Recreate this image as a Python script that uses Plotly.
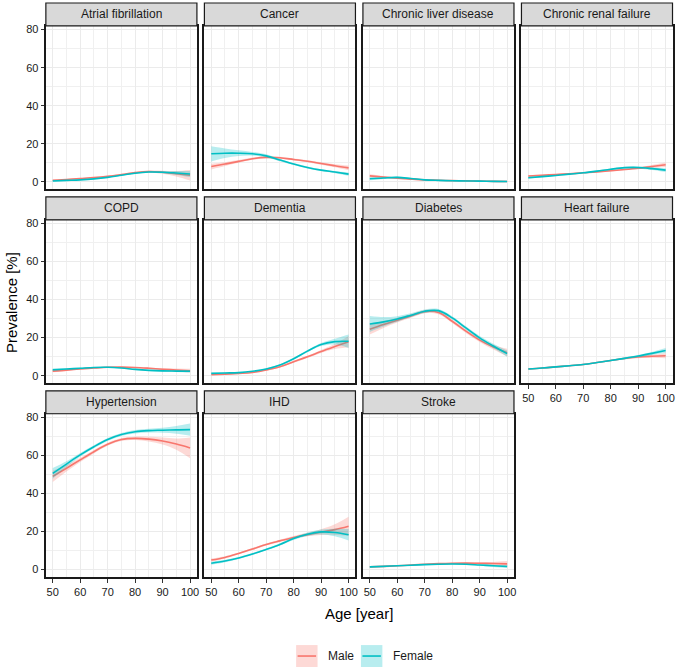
import plotly.graph_objects as go

# ---------------- data ----------------
ages = [50, 55, 60, 65, 70, 75, 80, 85, 90, 95, 100]

diseases = ["Atrial fibrillation", "Cancer", "Chronic liver disease", "Chronic renal failure",
            "COPD", "Dementia", "Diabetes", "Heart failure",
            "Hypertension", "IHD", "Stroke"]

male_prev = {
    "Atrial fibrillation": [0.8, 1.2, 1.7, 2.2, 2.9, 3.8, 4.8, 5.4, 5.0, 4.2, 3.4],
    "Cancer": [8.0, 9.3, 10.7, 12.1, 12.8, 12.6, 11.7, 10.8, 9.6, 8.4, 7.3],
    "Chronic liver disease": [3.1, 2.5, 1.9, 1.4, 1.0, 0.8, 0.6, 0.5, 0.3, 0.2, 0.1],
    "Chronic renal failure": [3.0, 3.4, 3.8, 4.2, 4.7, 5.2, 5.8, 6.4, 7.1, 8.0, 8.9],
    "COPD": [2.4, 2.9, 3.5, 4.0, 4.4, 4.5, 4.3, 3.9, 3.4, 3.0, 2.6],
    "Dementia": [0.5, 0.8, 1.2, 1.7, 3.0, 4.7, 7.3, 9.9, 12.7, 15.3, 17.8],
    "Diabetes": [24.4, 26.9, 29.1, 31.4, 33.7, 33.2, 28.6, 23.4, 18.7, 15.0, 12.1],
    "Heart failure": [3.5, 4.0, 4.6, 5.2, 5.9, 6.9, 8.0, 9.0, 9.8, 10.2, 10.5],
    "Hypertension": [49.0, 53.3, 57.7, 62.0, 65.9, 68.4, 69.0, 68.6, 67.6, 66.0, 64.0],
    "IHD": [5.0, 6.4, 8.5, 10.8, 13.2, 15.1, 16.9, 18.4, 19.7, 21.0, 22.8],
    "Stroke": [1.4, 1.7, 2.0, 2.4, 2.8, 3.1, 3.3, 3.4, 3.3, 3.2, 3.0],
}

female_prev = {
    "Atrial fibrillation": [0.4, 0.7, 1.0, 1.5, 2.3, 3.4, 4.5, 5.1, 5.0, 4.6, 4.1],
    "Cancer": [14.7, 15.0, 15.0, 14.7, 13.6, 11.4, 9.3, 7.5, 6.1, 5.1, 4.0],
    "Chronic liver disease": [1.6, 2.0, 2.3, 1.7, 1.0, 0.7, 0.5, 0.4, 0.3, 0.2, 0.1],
    "Chronic renal failure": [2.1, 2.7, 3.3, 4.0, 4.7, 5.6, 6.6, 7.4, 7.5, 6.9, 6.1],
    "COPD": [3.1, 3.5, 3.9, 4.3, 4.4, 4.0, 3.3, 2.8, 2.5, 2.4, 2.3],
    "Dementia": [1.2, 1.4, 1.6, 2.3, 3.5, 5.6, 8.9, 12.9, 16.4, 17.9, 18.1],
    "Diabetes": [27.2, 28.3, 29.8, 31.8, 33.9, 34.2, 30.4, 25.1, 19.9, 15.6, 11.6],
    "Heart failure": [3.5, 4.0, 4.6, 5.2, 5.9, 6.9, 8.0, 9.1, 10.3, 11.7, 13.2],
    "Hypertension": [50.6, 55.5, 60.3, 64.6, 68.4, 71.0, 72.5, 73.1, 73.3, 73.5, 73.6],
    "IHD": [3.3, 4.5, 6.1, 8.2, 10.6, 13.2, 16.3, 18.6, 19.8, 19.5, 18.3],
    "Stroke": [1.4, 1.7, 2.0, 2.3, 2.6, 2.8, 2.9, 2.8, 2.4, 2.0, 1.6],
}

# half-width of the confidence band
male_ci = {
    "Atrial fibrillation": [0.3, 0.3, 0.3, 0.3, 0.3, 0.3, 0.4, 0.5, 0.8, 1.5, 2.8],
    "Cancer": [1.5, 1.0, 0.7, 0.6, 0.5, 0.5, 0.5, 0.5, 0.6, 0.8, 1.2],
    "Chronic liver disease": [0.8, 0.5, 0.4, 0.3, 0.3, 0.2, 0.2, 0.2, 0.2, 0.3, 0.4],
    "Chronic renal failure": [0.5, 0.4, 0.3, 0.3, 0.3, 0.3, 0.4, 0.4, 0.5, 0.8, 1.2],
    "COPD": [0.6, 0.4, 0.3, 0.3, 0.3, 0.3, 0.3, 0.4, 0.5, 0.7, 1.0],
    "Dementia": [0.2, 0.2, 0.2, 0.2, 0.3, 0.4, 0.5, 0.6, 0.8, 1.3, 3.0],
    "Diabetes": [2.8, 1.8, 1.2, 1.0, 0.9, 0.9, 0.9, 0.9, 1.0, 1.3, 2.0],
    "Heart failure": [0.3, 0.3, 0.3, 0.3, 0.3, 0.3, 0.4, 0.5, 0.6, 0.8, 1.3],
    "Hypertension": [3.0, 1.7, 1.1, 0.9, 0.8, 0.8, 0.9, 1.2, 1.8, 3.0, 5.5],
    "IHD": [0.8, 0.6, 0.5, 0.5, 0.5, 0.6, 0.7, 0.9, 1.5, 2.8, 5.0],
    "Stroke": [0.3, 0.2, 0.2, 0.2, 0.2, 0.2, 0.3, 0.4, 0.5, 0.8, 1.5],
}

female_ci = {
    "Atrial fibrillation": [0.3, 0.2, 0.2, 0.2, 0.2, 0.3, 0.3, 0.4, 0.6, 1.0, 1.6],
    "Cancer": [4.0, 2.5, 1.5, 1.0, 0.8, 0.6, 0.5, 0.5, 0.5, 0.6, 0.9],
    "Chronic liver disease": [0.8, 0.5, 0.4, 0.3, 0.3, 0.2, 0.2, 0.2, 0.2, 0.3, 0.4],
    "Chronic renal failure": [0.5, 0.4, 0.3, 0.3, 0.3, 0.3, 0.4, 0.4, 0.5, 0.7, 1.0],
    "COPD": [0.7, 0.4, 0.3, 0.3, 0.3, 0.3, 0.3, 0.3, 0.4, 0.5, 0.7],
    "Dementia": [0.3, 0.2, 0.2, 0.2, 0.3, 0.4, 0.5, 0.6, 0.8, 1.5, 3.5],
    "Diabetes": [4.2, 2.5, 1.5, 1.0, 0.9, 0.9, 0.9, 0.9, 1.0, 1.2, 1.6],
    "Heart failure": [0.3, 0.3, 0.3, 0.3, 0.3, 0.3, 0.4, 0.5, 0.6, 0.8, 1.3],
    "Hypertension": [2.8, 1.5, 1.0, 0.8, 0.8, 0.8, 0.9, 1.0, 1.3, 2.0, 3.2],
    "IHD": [0.8, 0.6, 0.5, 0.5, 0.5, 0.6, 0.7, 0.9, 1.3, 2.0, 3.0],
    "Stroke": [0.3, 0.2, 0.2, 0.2, 0.2, 0.2, 0.2, 0.3, 0.4, 0.6, 0.8],
}

sexes = ["Male", "Female"]
x_ticks = [50, 60, 70, 80, 90, 100]
y_ticks = [0, 20, 40, 60, 80]

# ---------------- styling ----------------
W, H = 677, 668
FONT = "Liberation Sans, Arial, sans-serif"
colors = {"Male": "#F8766D", "Female": "#00BFC4"}
fills = {"Male": "rgba(248,118,109,0.28)", "Female": "rgba(0,191,196,0.28)"}
series = {"Male": (male_prev, male_ci), "Female": (female_prev, female_ci)}


def fx(p):
    return p / W


def fy(p):
    return 1 - p / H


PANEL_W, PANEL_H = 151.5, 164
COL_X = [46 + 159 * c for c in range(4)]
ROW_Y = [24 + 194.5 * r for r in range(3)]
STRIP_H = 23

fig = go.Figure()
shapes, annotations = [], []

for i, d in enumerate(diseases):
    r, c = divmod(i, 4)
    suffix = "" if i == 0 else str(i + 1)
    xa, ya = "x" + suffix, "y" + suffix
    for s in sexes:
        prev, ci = series[s]
        vals, hw = prev[d], ci[d]
        upper = [v + e for v, e in zip(vals, hw)]
        lower = [v - e for v, e in zip(vals, hw)]
        fig.add_trace(go.Scatter(x=ages, y=upper, mode="lines", xaxis=xa, yaxis=ya,
                                 line=dict(width=0, shape="spline", color=colors[s]),
                                 showlegend=False, hoverinfo="skip"))
        fig.add_trace(go.Scatter(x=ages, y=lower, mode="lines", xaxis=xa, yaxis=ya,
                                 line=dict(width=0, shape="spline", color=colors[s]),
                                 fill="tonexty", fillcolor=fills[s],
                                 showlegend=False, hoverinfo="skip"))
        fig.add_trace(go.Scatter(x=ages, y=vals, mode="lines", xaxis=xa, yaxis=ya, name=s,
                                 line=dict(width=1.6, shape="spline", color=colors[s]),
                                 showlegend=False))

    x0, x1 = COL_X[c], COL_X[c] + PANEL_W
    y0, y1 = ROW_Y[r], ROW_Y[r] + PANEL_H
    show_x = (r == 2) or (r == 1 and c == 3)
    show_y = c == 0
    fig.layout["xaxis" + suffix] = dict(
        domain=[fx(x0), fx(x1)], anchor=ya, range=[47.5, 102.5],
        tickvals=x_ticks, showticklabels=show_x, ticks="outside" if show_x else "",
        ticklen=3.5, tickwidth=1, tickcolor="#333333",
        tickfont=dict(size=11, color="#1a1a1a", family=FONT),
        showgrid=True, gridcolor="#EBEBEB", gridwidth=1.1,
        minor=dict(tick0=45, dtick=10, showgrid=True, gridcolor="#F0F0F0", gridwidth=0.6),
        showline=True, mirror=True, linecolor="#1a1a1a", linewidth=1.5, zeroline=False,
    )
    fig.layout["yaxis" + suffix] = dict(
        domain=[fy(y1), fy(y0)], anchor=xa, range=[-4.05, 81.95],
        tickvals=y_ticks, showticklabels=show_y, ticks="outside" if show_y else "",
        ticklen=3.5, tickwidth=1, tickcolor="#333333",
        tickfont=dict(size=11, color="#1a1a1a", family=FONT),
        showgrid=True, gridcolor="#EBEBEB", gridwidth=1.1,
        minor=dict(tick0=10, dtick=20, showgrid=True, gridcolor="#F0F0F0", gridwidth=0.6),
        showline=True, mirror=True, linecolor="#1a1a1a", linewidth=1.5, zeroline=False,
    )
    # strip
    shapes.append(dict(type="rect", xref="paper", yref="paper",
                       x0=fx(x0), x1=fx(x1), y0=fy(y0), y1=fy(y0 - STRIP_H),
                       fillcolor="#D9D9D9", line=dict(color="#1a1a1a", width=1.2)))
    annotations.append(dict(text=d, xref="paper", yref="paper",
                            x=fx((x0 + x1) / 2), y=fy(y0 - STRIP_H / 2),
                            xanchor="center", yanchor="middle", showarrow=False,
                            font=dict(size=12, color="#1a1a1a", family=FONT)))

# axis titles
annotations.append(dict(text="Age [year]", xref="paper", yref="paper", x=fx(360), y=fy(613),
                        xanchor="center", yanchor="middle", showarrow=False,
                        font=dict(size=15, color="#000000", family=FONT)))
annotations.append(dict(text="Prevalence [%]", xref="paper", yref="paper", x=fx(11), y=fy(301),
                        xanchor="center", yanchor="middle", showarrow=False, textangle=-90,
                        font=dict(size=15, color="#000000", family=FONT)))

# legend (keys drawn as shapes, labels as text)
legend_pos = {"Male": 297, "Female": 362}
for s in sexes:
    lx = legend_pos[s]
    shapes.append(dict(type="rect", xref="paper", yref="paper",
                       x0=fx(lx), x1=fx(lx + 21.5), y0=fy(667), y1=fy(645),
                       fillcolor=fills[s], line=dict(width=0)))
    shapes.append(dict(type="line", xref="paper", yref="paper",
                       x0=fx(lx + 1.5), x1=fx(lx + 20), y0=fy(656), y1=fy(656),
                       line=dict(color=colors[s], width=1.6)))
    annotations.append(dict(text=s, xref="paper", yref="paper", x=fx(lx + 30), y=fy(656),
                            xanchor="left", yanchor="middle", showarrow=False,
                            font=dict(size=12, color="#1a1a1a", family=FONT)))

fig.update_layout(
    width=W, height=H, margin=dict(l=0, r=0, t=0, b=0),
    paper_bgcolor="white", plot_bgcolor="white",
    shapes=shapes, annotations=annotations, showlegend=False,
    font=dict(family=FONT),
)

fig.write_html(
    "out.html",
    config={"displayModeBar": False},
    post_script="document.body.style.margin='0';document.body.style.overflow='hidden';",
)
